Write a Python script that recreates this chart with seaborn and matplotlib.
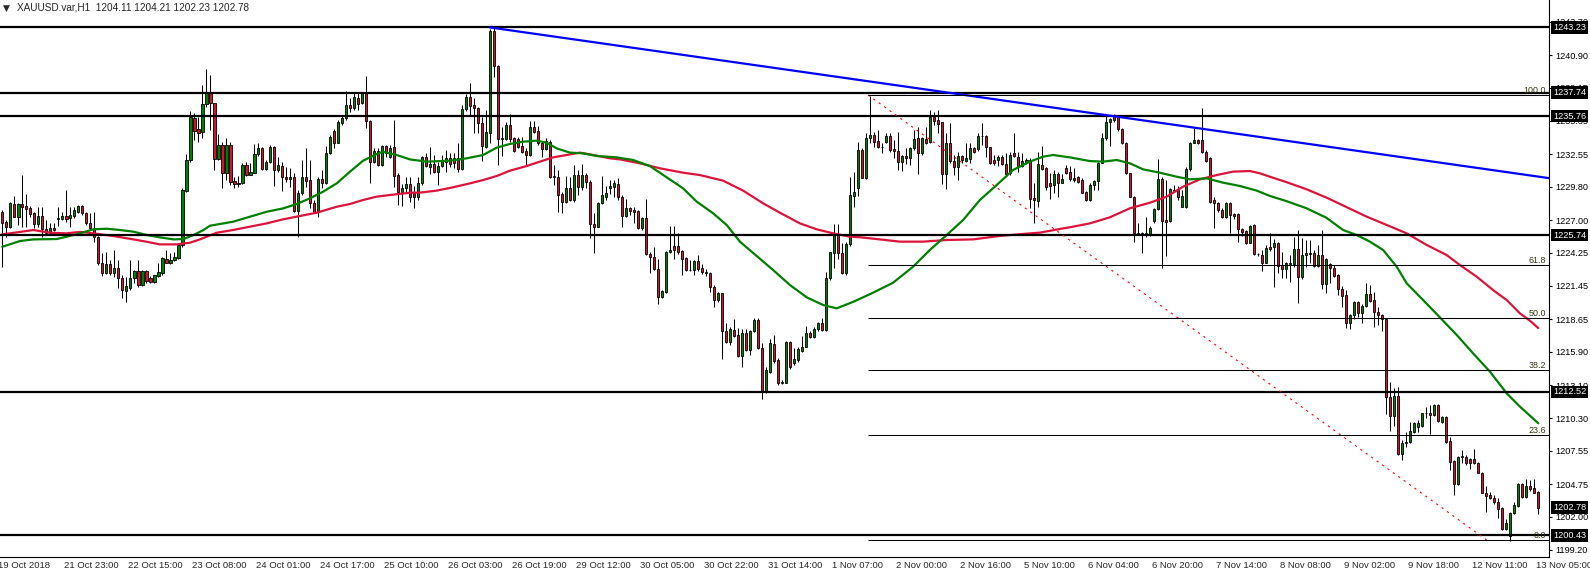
import numpy as np
import matplotlib
matplotlib.use("Agg")
import matplotlib.pyplot as plt
import matplotlib.transforms as mtransforms
import seaborn as sns

symbol = "XAUUSD.var,H1"

# hourly candles, bar 0 = left edge of the chart
opens = [
    1227.70, 1226.80, 1226.38, 1228.35, 1227.28, 1228.35, 1228.21, 1227.98, 1227.56, 1226.66,
    1227.34, 1226.21, 1225.93, 1226.35, 1227.10, 1227.11, 1227.34, 1227.14, 1227.34, 1227.70,
    1228.21, 1227.56, 1226.72, 1226.30, 1225.60, 1223.35, 1222.56, 1223.29, 1222.56, 1222.93,
    1222.09, 1221.05, 1221.30, 1222.09, 1222.73, 1221.50, 1222.70, 1222.09, 1221.81, 1222.31,
    1222.51, 1223.72, 1223.41, 1223.63, 1223.83, 1224.89, 1229.44, 1232.06, 1235.57, 1234.67,
    1234.39, 1236.75, 1237.81, 1236.83, 1232.11, 1233.32, 1230.99, 1233.32, 1230.29, 1230.05,
    1230.15, 1231.63, 1230.82, 1230.99, 1232.53, 1233.04, 1231.27, 1231.86, 1233.12, 1231.21,
    1231.55, 1230.65, 1230.43, 1230.60, 1227.79, 1229.25, 1230.65, 1230.37, 1228.41, 1227.70,
    1230.45, 1230.15, 1232.62, 1234.50, 1233.52, 1235.20, 1235.57, 1236.69, 1236.46, 1237.31,
    1236.83, 1237.67, 1235.34, 1231.92, 1232.81, 1231.63, 1233.23, 1232.34, 1233.12, 1230.79,
    1229.39, 1229.67, 1230.04, 1229.25, 1228.91, 1230.09, 1232.28, 1231.50, 1231.72, 1231.02,
    1231.58, 1231.92, 1232.20, 1232.20, 1232.20, 1231.30, 1236.33, 1237.34, 1236.69, 1236.41,
    1235.20, 1233.18, 1234.30, 1242.90, 1240.00, 1233.80, 1233.86, 1234.98, 1233.88, 1233.80,
    1233.24, 1232.82, 1232.48, 1234.87, 1234.50, 1233.52, 1233.01, 1233.60, 1230.65, 1230.65,
    1229.19, 1228.55, 1229.67, 1228.69, 1230.79, 1229.76, 1230.79, 1230.23, 1226.67, 1226.44,
    1228.41, 1228.97, 1229.73, 1229.76, 1230.04, 1228.97, 1227.37, 1227.99, 1227.85, 1227.76,
    1226.30, 1227.15, 1224.11, 1223.92, 1222.85, 1220.49, 1220.97, 1224.34, 1224.81, 1224.81,
    1224.39, 1223.78, 1222.79, 1222.79, 1223.55, 1222.93, 1222.65, 1222.51, 1221.33, 1220.27,
    1220.83, 1217.68, 1216.76, 1217.74, 1217.32, 1215.55, 1217.46, 1216.05, 1217.65, 1218.58,
    1216.19, 1212.54, 1214.23, 1216.56, 1215.21, 1213.24, 1213.30, 1216.73, 1214.96, 1215.21,
    1216.00, 1216.33, 1217.46, 1217.12, 1217.79, 1218.35, 1217.74, 1222.09, 1224.20, 1225.74,
    1224.20, 1222.51, 1224.95, 1229.03, 1229.73, 1232.90, 1230.51, 1233.88, 1234.17, 1233.66,
    1233.15, 1233.60, 1234.08, 1232.96, 1232.82, 1231.92, 1232.40, 1232.20, 1233.04, 1233.88,
    1232.62, 1233.80, 1233.60, 1235.71, 1235.43, 1235.23, 1230.88, 1233.52, 1231.97, 1231.44,
    1232.40, 1232.00, 1232.12, 1233.04, 1232.96, 1234.08, 1234.08, 1233.13, 1232.06, 1232.06,
    1232.34, 1231.72, 1230.94, 1232.62, 1232.34, 1231.55, 1231.92, 1232.06, 1228.83, 1228.63,
    1231.64, 1231.36, 1230.09, 1229.95, 1230.88, 1230.15, 1231.36, 1231.08, 1230.37, 1230.60,
    1230.37, 1229.39, 1228.69, 1229.95, 1230.32, 1231.83, 1233.88, 1235.29, 1235.85, 1235.71,
    1234.64, 1233.46, 1230.94, 1228.97, 1225.74, 1225.94, 1225.74, 1225.74, 1226.95, 1227.90,
    1230.43, 1227.00, 1226.95, 1229.53, 1229.53, 1228.13, 1228.13, 1231.27, 1233.52, 1233.74,
    1233.74, 1232.76, 1232.20, 1228.69, 1228.46, 1227.85, 1227.23, 1228.46, 1227.48, 1227.48,
    1226.22, 1226.08, 1225.10, 1226.58, 1224.11, 1224.05, 1223.41, 1224.76, 1224.70, 1225.04,
    1223.21, 1222.85, 1223.27, 1223.30, 1224.56, 1222.17, 1224.05, 1224.14, 1224.19, 1223.13,
    1224.05, 1221.58, 1223.30, 1223.00, 1222.37, 1221.16, 1220.69, 1218.35, 1218.97, 1220.10,
    1219.20, 1219.76, 1220.77, 1220.26, 1219.28, 1219.00, 1218.66, 1212.12, 1210.52, 1212.20,
    1207.26, 1208.19, 1208.33, 1209.17, 1209.59, 1209.65, 1210.72, 1210.77, 1210.57, 1211.42,
    1210.01, 1210.38, 1208.38, 1206.73, 1204.76, 1207.01, 1207.06, 1206.87, 1206.84, 1206.50,
    1205.72, 1204.03, 1203.84, 1203.56, 1203.27, 1202.71, 1200.94, 1200.38, 1202.29, 1202.91,
    1204.74, 1203.64, 1204.59, 1204.40, 1204.11,
]
highs = [
    1227.84, 1227.00, 1228.55, 1229.02, 1228.41, 1230.79, 1229.19, 1228.21, 1227.70, 1228.12,
    1228.12, 1227.00, 1226.72, 1226.72, 1228.07, 1227.70, 1229.53, 1228.12, 1228.12, 1228.27,
    1228.27, 1227.70, 1227.56, 1227.70, 1225.65, 1224.19, 1224.33, 1223.63, 1224.47, 1223.63,
    1222.37, 1222.23, 1223.63, 1222.79, 1223.63, 1222.79, 1222.79, 1222.28, 1222.40, 1223.35,
    1223.91, 1224.47, 1224.19, 1224.33, 1225.03, 1229.67, 1232.53, 1236.21, 1235.99, 1235.71,
    1238.37, 1239.69, 1239.22, 1236.89, 1234.25, 1233.60, 1233.88, 1233.60, 1230.65, 1230.71,
    1231.77, 1231.92, 1231.77, 1233.40, 1233.52, 1233.12, 1232.06, 1233.32, 1233.23, 1232.34,
    1231.92, 1231.44, 1231.35, 1230.93, 1229.53, 1232.06, 1233.04, 1232.06, 1228.69, 1230.65,
    1231.21, 1233.23, 1234.16, 1234.64, 1235.43, 1235.85, 1237.87, 1237.25, 1237.81, 1237.73,
    1237.81, 1239.13, 1235.43, 1233.04, 1233.04, 1233.32, 1233.32, 1233.32, 1235.43, 1230.93,
    1230.03, 1230.60, 1230.60, 1229.87, 1230.60, 1232.40, 1232.68, 1233.18, 1232.48, 1231.91,
    1232.48, 1232.90, 1232.62, 1232.62, 1233.46, 1236.69, 1237.62, 1238.57, 1237.25, 1236.49,
    1235.71, 1236.27, 1243.10, 1243.23, 1240.06, 1234.87, 1235.29, 1235.90, 1234.02, 1234.02,
    1234.02, 1233.04, 1235.34, 1235.34, 1234.92, 1233.69, 1233.88, 1233.74, 1231.64, 1231.22,
    1229.39, 1230.71, 1230.65, 1231.64, 1231.22, 1231.69, 1230.99, 1230.37, 1227.56, 1228.55,
    1230.71, 1229.87, 1230.37, 1230.37, 1230.51, 1229.11, 1228.75, 1228.13, 1228.07, 1227.85,
    1227.23, 1228.75, 1224.34, 1224.76, 1223.69, 1221.10, 1224.42, 1226.50, 1226.50, 1225.94,
    1224.48, 1223.92, 1223.63, 1223.63, 1224.06, 1223.30, 1222.85, 1222.60, 1221.53, 1220.97,
    1220.88, 1218.35, 1217.96, 1218.63, 1217.88, 1217.79, 1217.79, 1217.74, 1218.72, 1218.72,
    1216.61, 1214.65, 1216.95, 1217.32, 1215.35, 1213.52, 1216.84, 1216.84, 1216.19, 1216.28,
    1217.23, 1218.07, 1217.68, 1218.02, 1218.44, 1218.72, 1222.65, 1224.34, 1226.67, 1226.67,
    1225.04, 1225.18, 1230.60, 1231.08, 1233.60, 1233.04, 1234.31, 1237.45, 1234.45, 1234.59,
    1233.46, 1234.36, 1234.36, 1233.74, 1234.45, 1232.48, 1233.04, 1233.12, 1234.59, 1234.87,
    1234.03, 1234.87, 1236.27, 1236.13, 1236.27, 1235.29, 1234.31, 1235.15, 1232.48, 1232.76,
    1232.48, 1233.52, 1233.46, 1233.18, 1234.31, 1235.15, 1234.17, 1233.18, 1232.48, 1232.48,
    1232.48, 1232.62, 1232.76, 1234.36, 1232.76, 1232.68, 1232.20, 1232.20, 1230.09, 1232.76,
    1233.24, 1231.50, 1230.94, 1231.22, 1231.08, 1230.88, 1231.64, 1231.55, 1231.36, 1230.71,
    1230.51, 1229.48, 1230.09, 1230.37, 1231.92, 1234.30, 1235.85, 1235.57, 1235.93, 1235.85,
    1234.73, 1233.60, 1231.00, 1229.03, 1226.72, 1226.00, 1227.29, 1226.50, 1228.00, 1232.11,
    1230.65, 1230.37, 1229.67, 1229.95, 1229.87, 1229.53, 1231.50, 1233.60, 1234.73, 1233.80,
    1236.41, 1232.90, 1232.28, 1228.97, 1228.55, 1227.99, 1228.55, 1228.55, 1227.57, 1227.57,
    1226.30, 1226.16, 1226.58, 1226.67, 1224.20, 1224.48, 1224.90, 1225.94, 1225.37, 1225.18,
    1224.34, 1223.49, 1224.05, 1225.54, 1226.16, 1225.46, 1225.32, 1225.32, 1224.48, 1224.90,
    1226.16, 1223.77, 1223.41, 1223.21, 1222.45, 1221.44, 1221.11, 1219.08, 1220.21, 1220.21,
    1219.93, 1221.67, 1221.53, 1220.97, 1219.65, 1219.08, 1218.72, 1213.38, 1212.82, 1212.96,
    1208.49, 1209.17, 1210.01, 1210.01, 1210.15, 1210.77, 1211.22, 1211.42, 1211.50, 1211.50,
    1210.49, 1210.49, 1208.75, 1206.78, 1207.12, 1207.63, 1207.20, 1206.92, 1207.68, 1206.64,
    1205.80, 1204.59, 1204.11, 1203.84, 1203.56, 1202.79, 1201.79, 1202.43, 1203.27, 1204.87,
    1204.82, 1205.16, 1205.10, 1205.16, 1204.21,
]
lows = [
    1223.01, 1225.60, 1226.30, 1227.23, 1226.58, 1226.44, 1226.44, 1227.28, 1226.30, 1226.44,
    1225.60, 1225.74, 1225.74, 1226.10, 1226.49, 1227.00, 1226.86, 1226.44, 1227.14, 1227.56,
    1227.42, 1226.58, 1226.16, 1225.18, 1223.21, 1222.28, 1222.45, 1222.37, 1222.23, 1221.24,
    1220.40, 1220.12, 1221.10, 1221.66, 1221.38, 1221.44, 1221.72, 1221.72, 1221.66, 1222.23,
    1222.37, 1223.35, 1223.29, 1223.55, 1223.72, 1224.75, 1229.36, 1231.92, 1233.74, 1233.60,
    1233.88, 1236.55, 1234.58, 1231.21, 1232.06, 1229.67, 1230.37, 1229.95, 1229.67, 1229.81,
    1230.04, 1230.71, 1230.79, 1230.93, 1232.42, 1231.21, 1231.21, 1231.77, 1229.87, 1231.07,
    1229.47, 1230.23, 1229.81, 1227.70, 1225.54, 1229.11, 1229.81, 1227.98, 1227.56, 1227.28,
    1229.67, 1230.04, 1232.53, 1233.04, 1233.46, 1235.00, 1235.43, 1236.13, 1236.27, 1236.27,
    1236.75, 1234.72, 1230.09, 1231.77, 1231.55, 1231.55, 1232.28, 1232.20, 1229.81, 1228.26,
    1228.18, 1229.39, 1228.55, 1228.04, 1228.69, 1229.95, 1231.50, 1230.88, 1230.94, 1229.95,
    1231.50, 1231.08, 1231.50, 1231.36, 1231.08, 1231.22, 1236.21, 1235.85, 1234.30, 1234.36,
    1232.00, 1233.04, 1233.46, 1239.08, 1231.64, 1232.40, 1233.74, 1233.60, 1232.76, 1233.04,
    1232.68, 1231.58, 1232.40, 1234.30, 1233.32, 1232.28, 1232.90, 1230.52, 1229.95, 1227.70,
    1227.62, 1228.46, 1228.63, 1228.55, 1229.11, 1229.53, 1229.67, 1225.46, 1224.25, 1226.39,
    1228.35, 1228.69, 1229.19, 1228.97, 1228.69, 1226.39, 1227.29, 1227.43, 1226.78, 1226.25,
    1226.16, 1224.03, 1222.51, 1222.79, 1219.93, 1220.41, 1220.83, 1224.25, 1223.69, 1224.14,
    1222.37, 1222.71, 1222.74, 1222.37, 1222.74, 1222.46, 1222.29, 1220.97, 1219.70, 1220.13,
    1215.27, 1216.61, 1216.47, 1217.18, 1215.49, 1214.65, 1216.00, 1215.63, 1217.60, 1216.11,
    1211.90, 1212.40, 1214.15, 1214.93, 1213.10, 1213.18, 1213.24, 1214.42, 1214.79, 1215.07,
    1215.91, 1216.28, 1217.04, 1217.04, 1217.68, 1217.65, 1217.65, 1221.95, 1222.93, 1223.69,
    1222.45, 1222.37, 1224.81, 1228.13, 1229.03, 1230.51, 1230.43, 1233.46, 1233.18, 1233.04,
    1232.62, 1233.52, 1232.76, 1232.20, 1231.22, 1231.13, 1231.72, 1231.64, 1232.90, 1230.88,
    1232.48, 1233.41, 1233.46, 1235.01, 1234.31, 1230.04, 1229.62, 1231.83, 1230.80, 1230.37,
    1231.83, 1231.92, 1231.78, 1232.68, 1232.85, 1233.32, 1232.34, 1231.72, 1231.64, 1231.55,
    1231.64, 1230.80, 1230.80, 1232.34, 1231.08, 1231.50, 1231.83, 1227.99, 1226.78, 1228.13,
    1231.22, 1229.53, 1228.75, 1229.25, 1228.97, 1230.09, 1230.88, 1230.32, 1230.23, 1230.09,
    1229.25, 1228.63, 1228.63, 1229.53, 1229.53, 1231.78, 1233.74, 1233.24, 1235.29, 1234.53,
    1233.40, 1230.88, 1228.91, 1225.18, 1225.70, 1224.20, 1225.60, 1225.66, 1226.72, 1227.85,
    1222.93, 1223.97, 1226.86, 1229.39, 1228.69, 1228.07, 1227.99, 1231.16, 1233.46, 1233.41,
    1232.68, 1231.92, 1228.41, 1226.30, 1227.71, 1227.15, 1227.15, 1225.88, 1227.06, 1225.18,
    1225.66, 1224.98, 1225.04, 1224.06, 1223.97, 1222.73, 1223.38, 1224.42, 1221.33, 1222.51,
    1222.09, 1222.09, 1221.81, 1223.07, 1220.04, 1222.00, 1223.07, 1223.35, 1223.02, 1223.07,
    1221.16, 1220.88, 1221.67, 1222.23, 1220.69, 1219.70, 1217.88, 1217.79, 1218.63, 1218.86,
    1218.35, 1219.70, 1220.12, 1217.96, 1218.16, 1217.68, 1210.66, 1209.26, 1209.65, 1207.21,
    1206.79, 1207.85, 1208.24, 1209.03, 1209.17, 1209.59, 1210.29, 1208.98, 1210.49, 1210.01,
    1209.87, 1208.24, 1205.94, 1203.84, 1204.68, 1206.50, 1206.36, 1206.00, 1206.45, 1205.66,
    1203.97, 1202.43, 1203.47, 1203.08, 1201.87, 1200.89, 1200.89, 1199.99, 1202.23, 1202.85,
    1203.55, 1203.55, 1204.20, 1203.98, 1202.23,
]
closes = [
    1226.72, 1226.44, 1228.41, 1227.28, 1228.32, 1228.12, 1227.93, 1227.51, 1226.66, 1227.34,
    1226.21, 1225.88, 1226.30, 1226.16, 1227.17, 1227.34, 1227.11, 1227.42, 1227.84, 1228.21,
    1227.56, 1226.72, 1226.30, 1225.60, 1223.35, 1222.56, 1223.29, 1222.51, 1222.93, 1222.09,
    1221.10, 1221.44, 1222.09, 1222.73, 1221.50, 1222.73, 1221.86, 1221.81, 1222.37, 1222.62,
    1223.77, 1223.41, 1223.63, 1223.91, 1224.89, 1229.53, 1232.06, 1235.65, 1234.53, 1234.36,
    1236.77, 1237.81, 1236.83, 1232.11, 1233.32, 1230.99, 1233.32, 1230.23, 1230.01, 1230.12,
    1231.63, 1230.79, 1231.04, 1232.53, 1233.04, 1231.27, 1231.86, 1233.12, 1231.21, 1231.61,
    1230.65, 1230.43, 1230.65, 1227.79, 1229.25, 1230.60, 1230.31, 1228.41, 1227.70, 1230.45,
    1230.15, 1232.62, 1233.97, 1233.52, 1235.23, 1235.57, 1236.69, 1236.46, 1237.33, 1236.80,
    1237.67, 1235.34, 1231.92, 1232.81, 1231.63, 1233.23, 1232.62, 1233.09, 1230.74, 1229.39,
    1229.67, 1230.03, 1228.91, 1228.91, 1230.09, 1232.28, 1231.58, 1231.72, 1231.02, 1231.58,
    1232.00, 1232.20, 1231.72, 1231.78, 1231.30, 1236.33, 1237.34, 1236.61, 1236.47, 1235.20,
    1233.24, 1234.39, 1242.90, 1240.00, 1233.80, 1233.91, 1234.98, 1233.86, 1232.85, 1233.18,
    1232.76, 1232.48, 1234.87, 1234.45, 1233.46, 1233.01, 1233.69, 1230.65, 1230.70, 1229.11,
    1228.55, 1229.67, 1228.69, 1230.79, 1229.81, 1230.79, 1230.23, 1226.64, 1226.44, 1228.41,
    1229.11, 1229.25, 1229.87, 1230.09, 1228.97, 1227.37, 1227.99, 1227.79, 1227.71, 1226.36,
    1227.15, 1224.11, 1223.86, 1222.85, 1220.49, 1221.02, 1224.34, 1224.48, 1224.48, 1224.34,
    1223.69, 1222.79, 1222.82, 1223.55, 1222.85, 1222.65, 1222.51, 1221.33, 1220.27, 1220.88,
    1217.68, 1216.76, 1217.79, 1217.26, 1215.55, 1217.46, 1216.05, 1217.65, 1218.58, 1216.19,
    1212.54, 1214.37, 1216.61, 1215.15, 1213.24, 1213.38, 1216.73, 1214.59, 1215.27, 1216.11,
    1216.33, 1217.46, 1217.12, 1217.85, 1218.35, 1217.74, 1222.09, 1224.28, 1225.74, 1224.20,
    1222.51, 1224.95, 1229.11, 1229.39, 1232.90, 1230.57, 1233.88, 1234.17, 1233.60, 1233.18,
    1233.12, 1234.08, 1232.90, 1232.82, 1231.92, 1232.40, 1232.20, 1233.04, 1233.80, 1232.62,
    1233.88, 1233.52, 1235.71, 1235.37, 1235.09, 1230.88, 1233.52, 1231.97, 1231.44, 1232.40,
    1232.06, 1232.20, 1233.04, 1232.76, 1234.08, 1234.10, 1233.13, 1231.78, 1231.78, 1232.34,
    1231.72, 1230.88, 1232.48, 1232.40, 1231.55, 1232.00, 1232.06, 1228.75, 1228.69, 1231.72,
    1231.27, 1229.81, 1229.87, 1230.88, 1230.15, 1230.43, 1230.99, 1230.43, 1230.51, 1230.23,
    1229.31, 1228.69, 1229.95, 1230.32, 1231.83, 1233.88, 1235.29, 1235.50, 1235.43, 1234.64,
    1233.46, 1230.94, 1228.97, 1225.88, 1225.94, 1225.74, 1225.88, 1226.30, 1227.90, 1230.43,
    1226.95, 1226.86, 1229.59, 1229.48, 1228.97, 1229.03, 1231.27, 1233.52, 1233.74, 1233.46,
    1232.76, 1232.00, 1228.55, 1228.41, 1227.85, 1227.23, 1228.46, 1227.43, 1227.34, 1226.22,
    1226.02, 1225.10, 1226.50, 1224.11, 1224.14, 1223.41, 1224.62, 1224.56, 1225.04, 1223.13,
    1222.85, 1223.35, 1223.35, 1224.56, 1222.17, 1224.05, 1224.19, 1224.25, 1223.13, 1224.05,
    1221.58, 1223.69, 1222.93, 1222.31, 1221.16, 1220.63, 1218.35, 1218.97, 1220.10, 1219.20,
    1219.76, 1220.77, 1220.21, 1219.22, 1219.00, 1218.66, 1212.06, 1210.52, 1212.20, 1207.26,
    1208.24, 1208.33, 1209.23, 1209.87, 1209.93, 1210.72, 1210.77, 1210.57, 1211.42, 1210.10,
    1210.38, 1208.33, 1206.64, 1204.76, 1207.06, 1207.12, 1206.56, 1206.50, 1206.50, 1205.72,
    1204.03, 1203.75, 1203.56, 1203.27, 1202.63, 1200.94, 1201.45, 1202.29, 1202.99, 1204.74,
    1203.64, 1204.59, 1204.31, 1204.03, 1202.78,
]

# moving averages (bar position, price)
ma_fast_bar = [0, 4.4, 7.8, 13.6, 16.1, 19.4, 22.8, 26.1, 29.4, 32.8, 36.1, 39.4, 42.8, 45.3, 47.8,
               50.3, 51.9, 57.7, 61.9, 66.1, 70.2, 73.6, 76.9, 80.2, 83.6, 86.9, 90.2, 93.6, 95.2,
               98.6, 101.9, 106.1, 111.9, 116.1, 120.2, 123.6, 126.9, 130.2, 133.6, 136.1, 138.6,
               141.9, 145.2, 148.6, 153.6, 157.7, 161.9, 166.1, 170.2, 173.6, 177.7, 181.1, 184.4,
               188.6, 192.7, 196.9, 201.1, 205.2, 208.6, 212.8, 217.7, 222.7, 227.7, 231.9, 236.1,
               240.2, 244.4, 248.6, 252.7, 256.9, 260.2, 262.7, 266.9, 271.9, 275.2, 278.6, 281.9,
               285.2, 289.4, 293.6, 296.9, 301.1, 305.2, 309.4, 313.6, 316.9, 321, 326, 331, 335.2,
               338.6, 341.9, 345.2, 348.6, 351.1, 355.2, 359.4, 363.6, 367.7, 371.9, 376.1, 379.4, 384]
ma_fast_val = [1224.75, 1225.23, 1225.37, 1225.40, 1225.60, 1225.88, 1226.22, 1226.27, 1226.16, 1226.02,
               1225.74, 1225.54, 1225.37, 1225.40, 1225.74, 1226.16, 1226.52, 1226.86, 1227.28, 1227.70,
               1227.98, 1228.35, 1228.83, 1229.39, 1230.09, 1231.07, 1232.00, 1232.56, 1232.76, 1232.48,
               1232.11, 1231.92, 1232.00, 1232.20, 1232.48, 1233.10, 1233.41, 1233.60, 1233.69, 1233.52,
               1233.04, 1232.68, 1232.62, 1232.40, 1232.28, 1232.06, 1231.55, 1230.60, 1229.67, 1228.55,
               1227.57, 1226.58, 1225.18, 1223.97, 1222.79, 1221.53, 1220.49, 1219.84, 1219.56, 1220.12,
               1220.88, 1221.72, 1223.07, 1224.48, 1225.74, 1227.00, 1228.69, 1229.95, 1231.22, 1231.92,
               1232.34, 1232.48, 1232.28, 1231.97, 1231.92, 1232.06, 1231.78, 1231.27, 1230.99, 1230.65,
               1230.43, 1230.51, 1230.15, 1229.87, 1229.48, 1229.03, 1228.60, 1228.00, 1227.20, 1226.16,
               1225.74, 1225.18, 1224.48, 1223.07, 1221.67, 1220.26, 1218.80, 1217.32, 1215.77, 1214.23,
               1212.40, 1211.28, 1209.88]
ma_slow_bar = [0, 1.9, 7.8, 11.9, 16.1, 19.4, 22.8, 27.8, 32.8, 36.1, 39.4, 43.6, 46.9, 49.4, 53.6,
               57.7, 61.9, 66.1, 70.2, 74.4, 78.6, 83.6, 86.9, 90.2, 93.6, 96.9, 101.9, 104.4, 108.6,
               112.7, 116.9, 120.2, 123.6, 126.9, 131.1, 134.4, 137.7, 141.1, 144.4, 147.7, 151.9,
               154.4, 159.4, 164.4, 170.2, 174.4, 180.2, 185.2, 190.2, 194.4, 199.4, 203.6, 207.7,
               211.9, 214.4, 219.4, 224.4, 230.2, 236.1, 242.7, 249.4, 255.2, 259.4, 264.4, 266.9,
               271.9, 276.9, 281.9, 286.9, 291.1, 295.2, 299.4, 303.6, 307.7, 311.9, 314.4, 316.9,
               321, 326, 331, 336, 341, 346, 351.1, 356.1, 361.1, 364.4, 368.6, 372.7, 376.1, 379.4,
               381.9, 384]
ma_slow_val = [1225.80, 1225.88, 1226.16, 1225.93, 1225.88, 1226.00, 1225.88, 1225.65, 1225.37, 1225.17,
               1224.95, 1224.95, 1225.09, 1225.37, 1225.93, 1226.16, 1226.44, 1226.72, 1227.06, 1227.34,
               1227.62, 1228.12, 1228.35, 1228.69, 1228.97, 1229.11, 1229.30, 1229.31, 1229.48, 1229.76,
               1230.09, 1230.37, 1230.71, 1231.16, 1231.55, 1231.92, 1232.28, 1232.48, 1232.68, 1232.48,
               1232.20, 1232.11, 1231.78, 1231.36, 1230.99, 1230.79, 1230.32, 1229.48, 1228.41, 1227.62,
               1226.72, 1226.22, 1225.88, 1225.60, 1225.55, 1225.37, 1225.18, 1225.18, 1225.32, 1225.37,
               1225.66, 1225.83, 1225.94, 1226.25, 1226.39, 1226.72, 1227.23, 1227.99, 1228.46, 1228.97,
               1229.81, 1230.43, 1230.79, 1231.08, 1231.13, 1230.94, 1230.65, 1230.20, 1229.60, 1228.90,
               1228.10, 1227.30, 1226.60, 1225.88, 1224.90, 1224.05, 1223.21, 1222.23, 1221.10, 1220.26,
               1219.14, 1218.52, 1217.90]

levels = [1243.23, 1237.74, 1235.76, 1225.74, 1212.52, 1200.43]
fib_ratios = [0.0, 23.6, 38.2, 50.0, 61.8, 100.0]
fib_bars = [216.4, 371.2]
fib_prices = [1237.54, 1200.02]
trend_bars = [121.9, 386.7]
trend_prices = [1243.23, 1230.53]

price_ticks = [1243.70, 1240.90, 1238.15, 1235.35, 1232.55, 1229.80, 1227.00, 1224.25, 1221.45,
               1218.65, 1215.90, 1213.10, 1210.30, 1207.55, 1204.75, 1202.00, 1199.20]
time_labels = ["19 Oct 2018", "21 Oct 23:00", "22 Oct 15:00", "23 Oct 08:00", "24 Oct 01:00",
               "24 Oct 17:00", "25 Oct 10:00", "26 Oct 03:00", "26 Oct 19:00", "29 Oct 12:00",
               "30 Oct 05:00", "30 Oct 22:00", "31 Oct 14:00", "1 Nov 07:00", "2 Nov 00:00",
               "2 Nov 16:00", "5 Nov 10:00", "6 Nov 04:00", "6 Nov 20:00", "7 Nov 14:00",
               "8 Nov 08:00", "9 Nov 02:00", "9 Nov 18:00", "12 Nov 11:00", "13 Nov 05:00"]
time_label_bars = [-1.5, 15, 31, 47, 63, 79, 95, 111, 127, 143, 159, 175, 191, 207, 223, 239,
                   255, 271, 287, 303, 319, 335, 351, 367, 383]

sns.set_style("white")
plt.rcParams['font.family'] = ['Liberation Sans', 'DejaVu Sans']

W, H = 1590, 571
fig = plt.figure(figsize=(W / 100, H / 100), dpi=100)
ax = fig.add_axes([0, 14 / H, 1549 / W, 557 / H])
ax.set_xlim(-0.575, 386.675)
ax.set_ylim(1198.61, 1245.54)

o = np.array(opens)
h = np.array(highs)
l = np.array(lows)
c = np.array(closes)
x = np.arange(len(c))
up = c >= o
lo = np.minimum(o, c)
ht = np.abs(c - o)

bull, bear = '#008000', '#D0142C'
ax.vlines(x, l, h, color='black', lw=0.75, zorder=3)
ax.bar(x[up], ht[up], bottom=lo[up], width=0.6, color=bull, edgecolor='black', linewidth=0.6, zorder=4)
ax.bar(x[~up], ht[~up], bottom=lo[~up], width=0.6, color=bear, edgecolor='black', linewidth=0.6, zorder=4)

sns.lineplot(x=ma_slow_bar, y=ma_slow_val, color='#DC143C', lw=1.6, ax=ax, zorder=5)
sns.lineplot(x=ma_fast_bar, y=ma_fast_val, color='#008000', lw=1.6, ax=ax, zorder=5)

for v in levels:
    ax.axhline(v, color='black', lw=1.6, zorder=6)

ax.plot(trend_bars, trend_prices, color='#0000FF', lw=1.6, zorder=6)

# fibonacci retracement
fib_hi, fib_lo = fib_prices
ax.plot(fib_bars, fib_prices, color='red', lw=0.8, ls=(0, (2, 4)), zorder=6)
trans = mtransforms.blended_transform_factory(ax.transAxes, ax.transData)
for r in fib_ratios:
    v = fib_lo + (fib_hi - fib_lo) * r / 100
    ax.hlines(v, fib_bars[0], 386.675, color='black', lw=0.75, zorder=6)
    ax.text(1546 / 1549, v, f"{r:.1f}", transform=trans, ha='right', va='bottom',
            fontsize=6.4, color='#333310', zorder=7)

# price axis on the right
ax.yaxis.tick_right()
ax.set_yticks(price_ticks)
ax.set_yticklabels([f"{v:.2f}" for v in price_ticks])
ax.tick_params(axis='y', length=2.2, width=0.8, pad=2.2, labelsize=6.6, colors='black')
ax.set_xticks(time_label_bars[1:])
ax.set_xticklabels([])
ax.tick_params(axis='x', length=3, width=0.8, colors='black')
for side in ['left', 'top']:
    ax.spines[side].set_visible(False)
for side in ['right', 'bottom']:
    ax.spines[side].set_color('black')
    ax.spines[side].set_linewidth(0.8)

for b, lab in zip(time_label_bars, time_labels):
    ax.annotate(lab, xy=(b, 0), xycoords=('data', 'axes fraction'), xytext=(2, -4),
                textcoords='offset pixels', ha='left', va='top', fontsize=6.8,
                annotation_clip=False)

for v in levels + [closes[-1]]:
    ax.annotate(f"{v:.2f}", xy=(1, v), xycoords=trans, xytext=(4, 0), textcoords='offset pixels',
                ha='left', va='center', fontsize=6.6, color='white', zorder=10,
                bbox=dict(boxstyle='square,pad=0.18', fc='black', ec='none'),
                annotation_clip=False)

fig.text(3 / W, 1 - 8 / H, "\u25BC", fontsize=6.5, va='center', ha='left',
         family=['DejaVu Sans'])
fig.text(17 / W, 1 - 8 / H,
         f"{symbol}  {opens[-1]:.2f} {highs[-1]:.2f} {lows[-1]:.2f} {closes[-1]:.2f}",
         fontsize=7.2, va='center', ha='left')

fig.savefig("out.png", dpi=100)
